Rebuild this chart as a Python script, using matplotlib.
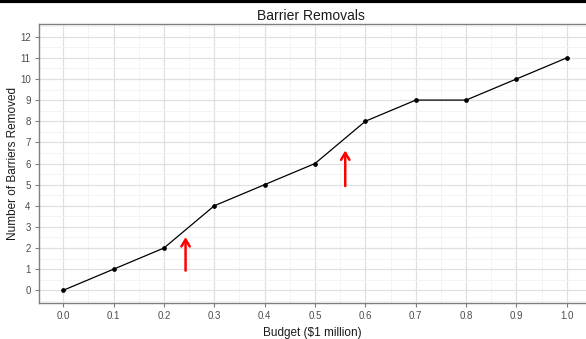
import matplotlib
matplotlib.use("Agg")
import matplotlib.pyplot as plt
from matplotlib.ticker import MultipleLocator

plt.rcParams['font.family'] = ['Liberation Sans', 'DejaVu Sans']

# data
budget = [0.0, 0.1, 0.2, 0.3, 0.4, 0.5, 0.6, 0.7, 0.8, 0.9, 1.0]
removed = [0, 1, 2, 4, 5, 6, 8, 9, 9, 10, 11]

# red arrows (x, y_start, y_end) in data units
arrow_x = [0.243, 0.56]
arrow_y0 = [0.8, 4.8]
arrow_y1 = [2.65, 6.75]

fig = plt.figure(figsize=(5.86, 3.39), dpi=100)
ax = fig.add_axes([39/586, 36/339, 1 - 39/586, (303 - 24)/339])

ax.plot(budget, removed, color="black", lw=0.9, marker="o", ms=2.4, zorder=3)

for x, y0, y1 in zip(arrow_x, arrow_y0, arrow_y1):
   ax.annotate("", xy=(x, y1), xytext=(x, y0),
               arrowprops=dict(arrowstyle="->,head_length=0.5,head_width=0.3",
                               color="red", lw=1.8))

ax.set_xlim(-0.048, 1.038)
ax.set_ylim(-0.6, 12.6)
ax.xaxis.set_major_locator(MultipleLocator(0.1))
ax.xaxis.set_minor_locator(MultipleLocator(0.05))
ax.yaxis.set_major_locator(MultipleLocator(1))
ax.yaxis.set_minor_locator(MultipleLocator(0.5))
ax.set_xticklabels([f"{t:.1f}" for t in ax.get_xticks()])

ax.grid(True, which="major", color="#e0e0e0", lw=0.9)
ax.grid(True, which="minor", color="#f2f2f2", lw=0.6)
ax.set_axisbelow(True)

ax.spines["right"].set_visible(False)
for side in ["top", "left", "bottom"]:
   ax.spines[side].set_color("#7f7f7f")
   ax.spines[side].set_linewidth(1.0)

ax.tick_params(which="major", length=3, color="#7f7f7f", labelsize=7,
               labelcolor="#4d4d4d", pad=3)
ax.tick_params(which="minor", length=0)

ax.set_xlabel("Budget (\\$1 million)", fontsize=8.5, color="#1a1a1a", labelpad=4)
ax.set_ylabel("Number of Barriers Removed", fontsize=8.5, color="#1a1a1a", labelpad=1)
fig.text(0.53, 1 - 16/339, "Barrier Removals", ha="center", va="center",
         fontsize=10, color="#1a1a1a")

# thick black line at top of the picture
fig.add_artist(plt.Line2D([0, 1], [0.996, 0.996], color="black", lw=3,
                          transform=fig.transFigure))

fig.savefig("out.png", dpi=100)
